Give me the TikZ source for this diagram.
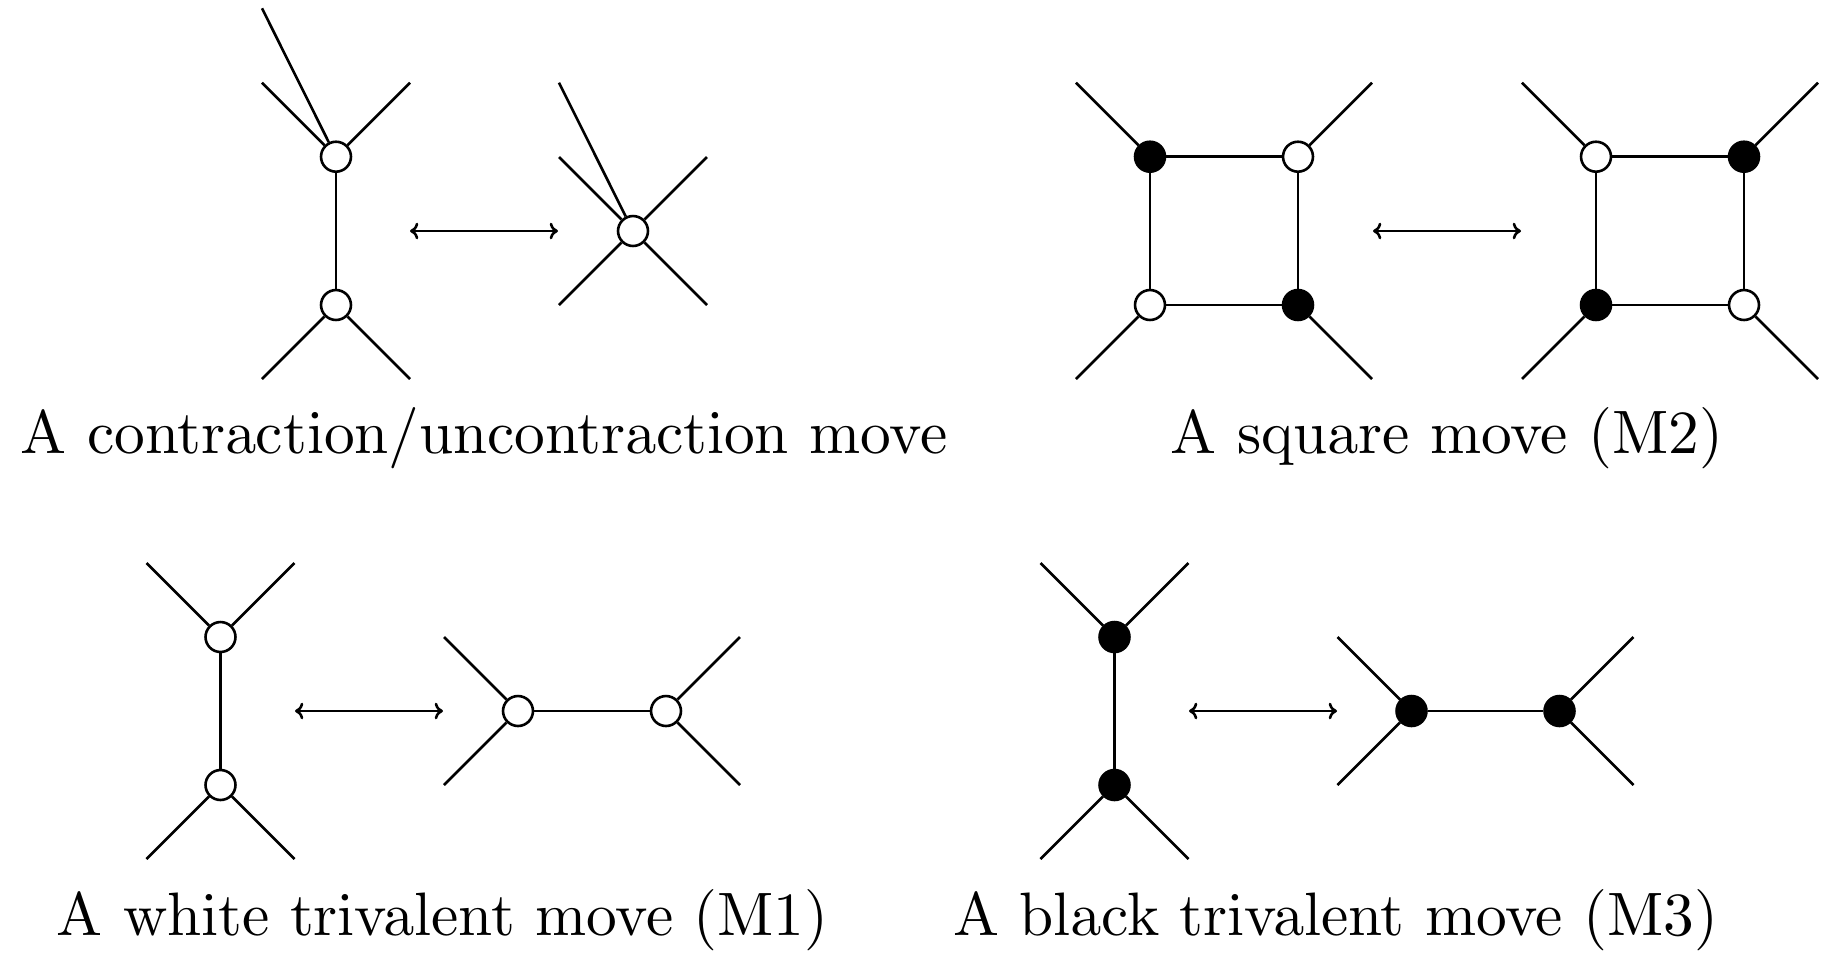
\documentclass[tikz,border=0pt]{standalone}
\usetikzlibrary{arrows.meta}
\font\labfont=cmr10 at 23.6pt
\begin{document}
\begin{tikzpicture}[x=0.0135135cm, y=-0.0135135cm,
  wv/.style={circle, draw, fill=white, line width=1pt, minimum size=0.405cm, inner sep=0pt},
  bv/.style={wv, fill=black},
  ln/.style={line width=1pt},
  dbl/.style={line width=1pt, {Computer Modern Rightarrow[length=3.2pt, width=6.4pt]}-{Computer Modern Rightarrow[length=3.2pt, width=6.4pt]}},
  lab/.style={anchor=base, font=\labfont, inner sep=0pt}]
\useasboundingbox (0,0) rectangle (1840,961);

% ---------- contraction / uncontraction ----------
\node[wv] (a1) at (336,156.7) {};
\node[wv] (a2) at (336,305) {};
\coordinate (a1t) at (262,8.3);
\coordinate (a1l) at (262,82.7);
\coordinate (a1r) at (410,82.7);
\coordinate (a2l) at (262,379);
\coordinate (a2r) at (410,379);
\draw[ln] (a1) -- (a2);
\draw[ln] (a1t) -- (a1);
\draw[ln] (a1l) -- (a1);
\draw[ln] (a1r) -- (a1);
\draw[ln] (a2l) -- (a2);
\draw[ln] (a2r) -- (a2);
\coordinate (p1s) at (410,231);
\coordinate (p1e) at (558,231);
\draw[dbl] (p1s) -- (p1e);
\node[wv] (b) at (633,231) {};
\coordinate (bt) at (559,82.7);
\coordinate (bul) at (559,157);
\coordinate (bur) at (707,157);
\coordinate (bdl) at (559,305);
\coordinate (bdr) at (707,305);
\draw[ln] (bt) -- (b);
\draw[ln] (bul) -- (b);
\draw[ln] (bur) -- (b);
\draw[ln] (bdl) -- (b);
\draw[ln] (bdr) -- (b);
\node[lab] (t1) at (484.5,453) {A contraction/uncontraction move};

% ---------- square move ----------
\node[bv] (s1) at (1150,156.7) {};
\node[wv] (s2) at (1298,156.7) {};
\node[wv] (s3) at (1150,305) {};
\node[bv] (s4) at (1298,305) {};
\coordinate (s1o) at (1076,82.7);
\coordinate (s2o) at (1372,82.7);
\coordinate (s3o) at (1076,379);
\coordinate (s4o) at (1372,379);
\draw[ln] (s1) -- (s2);
\draw[ln] (s2) -- (s4);
\draw[ln] (s4) -- (s3);
\draw[ln] (s3) -- (s1);
\draw[ln] (s1o) -- (s1);
\draw[ln] (s2o) -- (s2);
\draw[ln] (s3o) -- (s3);
\draw[ln] (s4o) -- (s4);
\coordinate (p2s) at (1373,231);
\coordinate (p2e) at (1521,231);
\draw[dbl] (p2s) -- (p2e);
\node[wv] (r1) at (1596,156.7) {};
\node[bv] (r2) at (1744,156.7) {};
\node[bv] (r3) at (1596,305) {};
\node[wv] (r4) at (1744,305) {};
\coordinate (r1o) at (1522,82.7);
\coordinate (r2o) at (1818,82.7);
\coordinate (r3o) at (1522,379);
\coordinate (r4o) at (1818,379);
\draw[ln] (r1) -- (r2);
\draw[ln] (r2) -- (r4);
\draw[ln] (r4) -- (r3);
\draw[ln] (r3) -- (r1);
\draw[ln] (r1o) -- (r1);
\draw[ln] (r2o) -- (r2);
\draw[ln] (r3o) -- (r3);
\draw[ln] (r4o) -- (r4);
\node[lab] (t2) at (1447,453) {A square move (M2)};

% ---------- white trivalent move ----------
\node[wv] (m1) at (220.5,637) {};
\node[wv] (m2) at (220.5,785) {};
\coordinate (m1l) at (146.5,563);
\coordinate (m1r) at (294.5,563);
\coordinate (m2l) at (146.5,859);
\coordinate (m2r) at (294.5,859);
\draw[ln] (m1) -- (m2);
\draw[ln] (m1l) -- (m1);
\draw[ln] (m1r) -- (m1);
\draw[ln] (m2l) -- (m2);
\draw[ln] (m2r) -- (m2);
\coordinate (p3s) at (295,711);
\coordinate (p3e) at (443,711);
\draw[dbl] (p3s) -- (p3e);
\node[wv] (n1) at (518,711) {};
\node[wv] (n2) at (666,711) {};
\coordinate (n1u) at (444,637);
\coordinate (n1d) at (444,785);
\coordinate (n2u) at (740,637);
\coordinate (n2d) at (740,785);
\draw[ln] (n1) -- (n2);
\draw[ln] (n1u) -- (n1);
\draw[ln] (n1d) -- (n1);
\draw[ln] (n2u) -- (n2);
\draw[ln] (n2d) -- (n2);
\node[lab] (t3) at (443,935) {A white trivalent move (M1)};

% ---------- black trivalent move ----------
\node[bv] (k1) at (1114.5,637) {};
\node[bv] (k2) at (1114.5,785) {};
\coordinate (k1l) at (1040.5,563);
\coordinate (k1r) at (1188.5,563);
\coordinate (k2l) at (1040.5,859);
\coordinate (k2r) at (1188.5,859);
\draw[ln] (k1) -- (k2);
\draw[ln] (k1l) -- (k1);
\draw[ln] (k1r) -- (k1);
\draw[ln] (k2l) -- (k2);
\draw[ln] (k2r) -- (k2);
\coordinate (p4s) at (1189,711);
\coordinate (p4e) at (1337,711);
\draw[dbl] (p4s) -- (p4e);
\node[bv] (q1) at (1411.5,711) {};
\node[bv] (q2) at (1559.5,711) {};
\coordinate (q1u) at (1337.5,637);
\coordinate (q1d) at (1337.5,785);
\coordinate (q2u) at (1633.5,637);
\coordinate (q2d) at (1633.5,785);
\draw[ln] (q1) -- (q2);
\draw[ln] (q1u) -- (q1);
\draw[ln] (q1d) -- (q1);
\draw[ln] (q2u) -- (q2);
\draw[ln] (q2d) -- (q2);
\node[lab] (t4) at (1336,935) {A black trivalent move (M3)};
\end{tikzpicture}
\end{document}
